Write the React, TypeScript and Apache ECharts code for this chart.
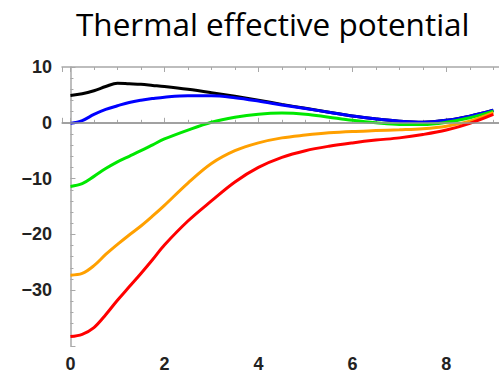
import React, { useEffect, useRef } from "react";
import * as echarts from "echarts";

const xs = [0, 0.25, 0.5, 0.75, 1, 1.25, 1.5, 1.75, 2, 2.5, 3, 3.5, 4, 4.5, 5, 5.5, 6, 6.5, 7, 7.5, 8, 8.5, 9];
const blackVals = [4.9, 5.2, 5.75, 6.5, 7.1, 7.0, 6.9, 6.7, 6.5, 6.0, 5.4, 4.75, 4.05, 3.3, 2.6, 1.9, 1.2, 0.7, 0.3, 0.1, 0.45, 1.2, 2.25];
const blueVals = [-0.1, 0.4, 1.5, 2.4, 3.05, 3.65, 4.05, 4.35, 4.6, 4.85, 4.85, 4.5, 3.9, 3.2, 2.55, 1.9, 1.2, 0.7, 0.3, 0.1, 0.45, 1.2, 2.25];
const greenVals = [-11.4, -10.9, -9.6, -8.2, -7.0, -6.0, -5.0, -3.95, -2.9, -1.3, 0.1, 1.0, 1.55, 1.75, 1.55, 1.0, 0.45, 0.0, -0.3, -0.3, 0.1, 0.9, 2.1];
const orangeVals = [-27.3, -27.0, -25.6, -23.6, -21.8, -20.1, -18.5, -16.7, -14.8, -10.8, -7.3, -5.0, -3.6, -2.7, -2.2, -1.8, -1.55, -1.4, -1.25, -1.05, -0.6, 0.3, 1.8];
const redVals = [-38.3, -37.9, -36.7, -34.4, -31.8, -29.4, -27.0, -24.5, -21.9, -17.6, -14.0, -10.6, -8.0, -6.2, -5.0, -4.2, -3.6, -3.1, -2.7, -2.1, -1.3, -0.1, 1.5];

const seriesNames = ["black", "blue", "green", "orange", "red"];
const seriesColors = ["#000000", "#0000ff", "#00e800", "#ffa000", "#ff0000"];
const seriesVals = [blackVals, blueVals, greenVals, orangeVals, redVals];

const titleText = "Thermal effective potential";

export default function App() {
  const ref = useRef<HTMLDivElement>(null);
  useEffect(() => {
    if (!ref.current) return;
    const chart = echarts.init(ref.current, null, { renderer: "svg" });
    const frameColor = "#a8a8a8";
    const labelStyle = {
      color: "#222",
      fontWeight: "bold" as const,
      fontSize: 18,
      fontFamily: "Liberation Sans, Arial, sans-serif",
    };
    const xBase = {
      type: "value" as const,
      min: -0.18,
      max: 9.12,
      splitNumber: 5,
      axisLine: { show: true, lineStyle: { color: frameColor, width: 1.5 } },
      axisTick: { show: true, inside: true, length: 5, lineStyle: { color: frameColor, width: 1 } },
      minorTick: { show: true, splitNumber: 4, length: 3, lineStyle: { color: frameColor, width: 1 } },
      splitLine: { show: false },
    };
    chart.setOption({
      animation: false,
      backgroundColor: "#ffffff",
      title: {
        text: titleText,
        left: 71,
        top: 2,
        textStyle: {
          fontFamily: "Open Sans, sans-serif",
          fontWeight: "normal",
          fontSize: 31.5,
          color: "#000",
        },
      },
      grid: { left: 62, right: 0, top: 67, bottom: 26 },
      xAxis: [
        {
          ...xBase,
          position: "bottom",
          axisLabel: { ...labelStyle, margin: 9, showMinLabel: false, showMaxLabel: false },
        },
        {
          ...xBase,
          position: "top",
          axisLabel: { show: false },
        },
      ],
      yAxis: {
        type: "value",
        min: -40,
        max: 10,
        interval: 10,
        axisLine: { show: true, lineStyle: { color: frameColor, width: 1.5 } },
        axisTick: { show: true, inside: true, length: 5, lineStyle: { color: frameColor, width: 1 } },
        minorTick: { show: true, splitNumber: 5, length: 3, lineStyle: { color: frameColor, width: 1 } },
        splitLine: { show: false },
        axisLabel: {
          ...labelStyle,
          margin: 10,
          showMinLabel: false,
          formatter: (v: number) => String(v).replace("-", "\u2212"),
        },
      },
      series: seriesVals.map((vals, i) => ({
        name: seriesNames[i],
        type: "line",
        xAxisIndex: 0,
        smooth: 0.35,
        showSymbol: false,
        symbol: "none",
        lineStyle: { color: seriesColors[i], width: 3 },
        data: xs.map((x, j) => [x, vals[j]]),
        ...(i === 0
          ? {
              markLine: {
                silent: true,
                symbol: ["none", "none"],
                label: { show: false },
                lineStyle: { color: "#999", width: 1.5, type: "solid" },
                data: [{ yAxis: 0 }],
              },
            }
          : {}),
      })),
    });
    return () => chart.dispose();
  }, []);
  return (
    <div
      ref={ref}
      style={{ position: "absolute", left: 0, top: 0, width: 499, height: 373 }}
    />
  );
}
